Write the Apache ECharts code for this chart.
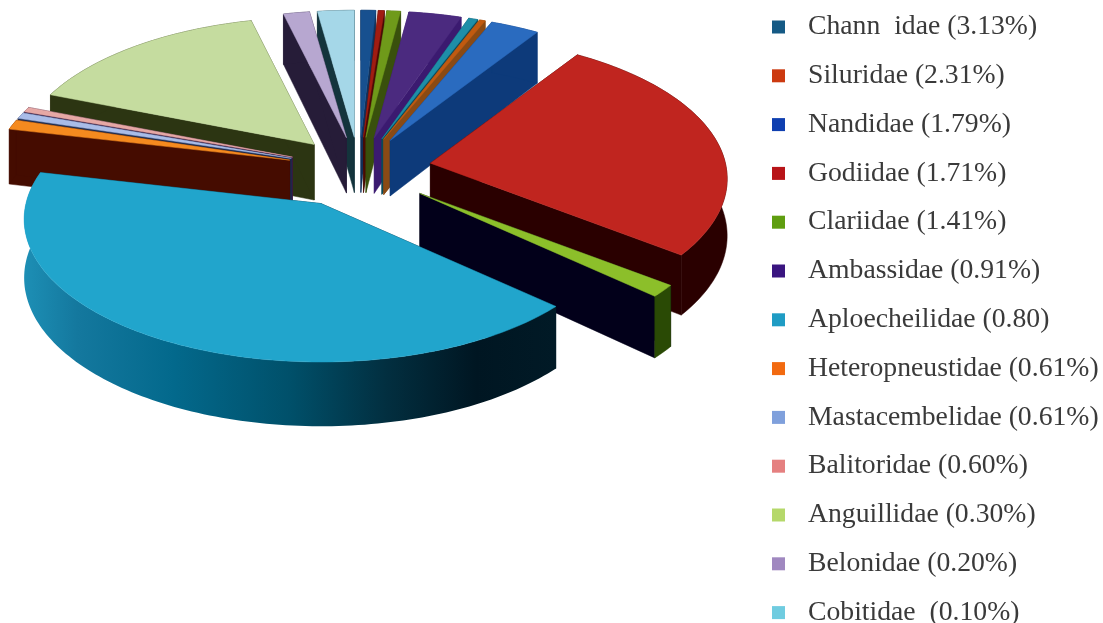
<!DOCTYPE html>
<html>
<head>
<meta charset="utf-8">
<style>html,body{margin:0;padding:0;background:#fff}#c{width:1103px;height:623px}</style>
<script src="https://cdn.jsdelivr.net/npm/echarts@6/dist/echarts.min.js"></script>
</head>
<body>
<div id="c"></div>
<script>
// Slices clockwise from 12 o'clock, share of the pie in percent
const sliceValues = [0.89, 0.36, 0.83, 3.19, 0.56, 0.36, 2.97, 26.25, 1.39, 41.81, 1.11, 0.69, 0.56, 15.22, 1.58, 2.22];
const topColors   = ['#17508f','#a01c12','#6f9a1a','#4b2a7f','#1e8ea8','#c05a10','#2a6bbf','#c0251f','#8cbf2a','#21a5cc','#f58a1f','#a9bce8','#e6a8a5','#c5dc9f','#b7a7d0','#a5d7e8'];
const faceColors  = ['#10305a','#4a0a05','#39500c','#3b1a70','#0a4a5a','#8a4a14','#0d3a7a','#2a0000','#02001a','#001a28','#450c00','#1c2b50','#3a1a40','#2c3512','#261c38','#14343c'];
const rimColors   = ['#10305a','#4a0a05','#39500c','#3b1a70','#0a4a5a','#8a4a14','#0d3a7a','#2a0000','#2a4a05','#00506a','#450c00','#1c2b50','#3a1a40','#2c3512','#261c38','#14343c'];

const legendNames = ['Chann  idae (3.13%)','Siluridae (2.31%)','Nandidae (1.79%)','Godiidae (1.71%)','Clariidae (1.41%)','Ambassidae (0.91%)','Aploecheilidae (0.80)','Heteropneustidae (0.61%)','Mastacembelidae (0.61%)','Balitoridae (0.60%)','Anguillidae (0.30%)','Belonidae (0.20%)','Cobitidae  (0.10%)'];
const legendColors = ['#155a85','#cc3a10','#0f3fb0','#b81418','#5f9e10','#3a1580','#1f9cc4','#f26a10','#7fa0dc','#e58080','#b5d86a','#a088c0','#70cce0'];

const CX = 359, CY = 169, RX = 295, RY = 141, PERSPECTIVE = 0.11, EXPLODE = 0.25;
const total = sliceValues.reduce((a, b) => a + b, 0);
const spans = [];
let acc = 0;
sliceValues.forEach(v => { const a0 = acc / total * 2 * Math.PI; acc += v; spans.push([a0, acc / total * 2 * Math.PI]); });
const unit = t => { const c = Math.cos(t), w = 1 + PERSPECTIVE * c; return [Math.sin(t) * RX / w, -c * RY / w]; };
const depthAt = y => 51 + 0.04 * (y - 30);
const drop = p => [p[0], p[1] + depthAt(p[1])];
// back-to-front painting order
const order = sliceValues.map((_, i) => i).sort((a, b) =>
  Math.cos((spans[b][0] + spans[b][1]) / 2) - Math.cos((spans[a][0] + spans[a][1]) / 2));

function renderSlice(params, api) {
  const i = api.value(1);
  const [a0, a1] = spans[i];
  const m = unit((a0 + a1) / 2);
  const apex = [CX + EXPLODE * m[0], CY + EXPLODE * m[1]];
  const arc = [];
  const steps = Math.max(2, Math.ceil((a1 - a0) / 0.02));
  for (let k = 0; k <= steps; k++) {
    const u = unit(a0 + (a1 - a0) * k / steps);
    arc.push([apex[0] + u[0], apex[1] + u[1]]);
  }
  const poly = (pts, fill) => ({ type: 'polygon', shape: { points: pts }, style: { fill, stroke: typeof fill === 'string' ? fill : null, lineWidth: 0.5 } });
  const first = arc[0], last = arc[arc.length - 1];
  const rimFill = i === 9
    ? new echarts.graphic.LinearGradient(1, 0, 0, 0, [
        { offset: 0, color: '#011a26' }, { offset: 0.15, color: '#001622' }, { offset: 0.32, color: '#022f40' },
        { offset: 0.5, color: '#00506a' }, { offset: 0.72, color: '#03698c' }, { offset: 0.9, color: '#14789e' }, { offset: 1, color: '#1d8fb5' }])
    : rimColors[i];
  return {
    type: 'group',
    children: [
      poly([apex, first, drop(first), drop(apex)], faceColors[i]),
      poly([apex, last, drop(last), drop(apex)], faceColors[i]),
      poly(arc.concat(arc.map(drop).reverse()), rimFill),
      poly([apex].concat(arc), topColors[i])
    ]
  };
}

const chart = echarts.init(document.getElementById('c'));
chart.setOption({
  animation: false,
  backgroundColor: '#fff',
  legend: {
    orient: 'vertical', left: 772, top: 13, width: 331, height: 640, itemWidth: 13, itemHeight: 13, itemGap: 20.8, padding: 0,
    selectedMode: false,
    textStyle: { fontFamily: 'Liberation Serif', fontSize: 27.7, color: '#3a3a3a', padding: [0, 0, 0, 18], lineHeight: 28 },
    data: legendNames.map((name, i) => ({ name, icon: 'rect', itemStyle: { color: legendColors[i] } }))
  },
  series: [
    { type: 'custom', name: 'pie', coordinateSystem: 'none', silent: true, renderItem: renderSlice,
      data: order.map(i => [sliceValues[i], i]) }
  ].concat(legendNames.map((name, i) => ({ type: 'custom', name, coordinateSystem: 'none', color: legendColors[i], renderItem: () => null, data: [] })))
});
</script>
</body>
</html>
